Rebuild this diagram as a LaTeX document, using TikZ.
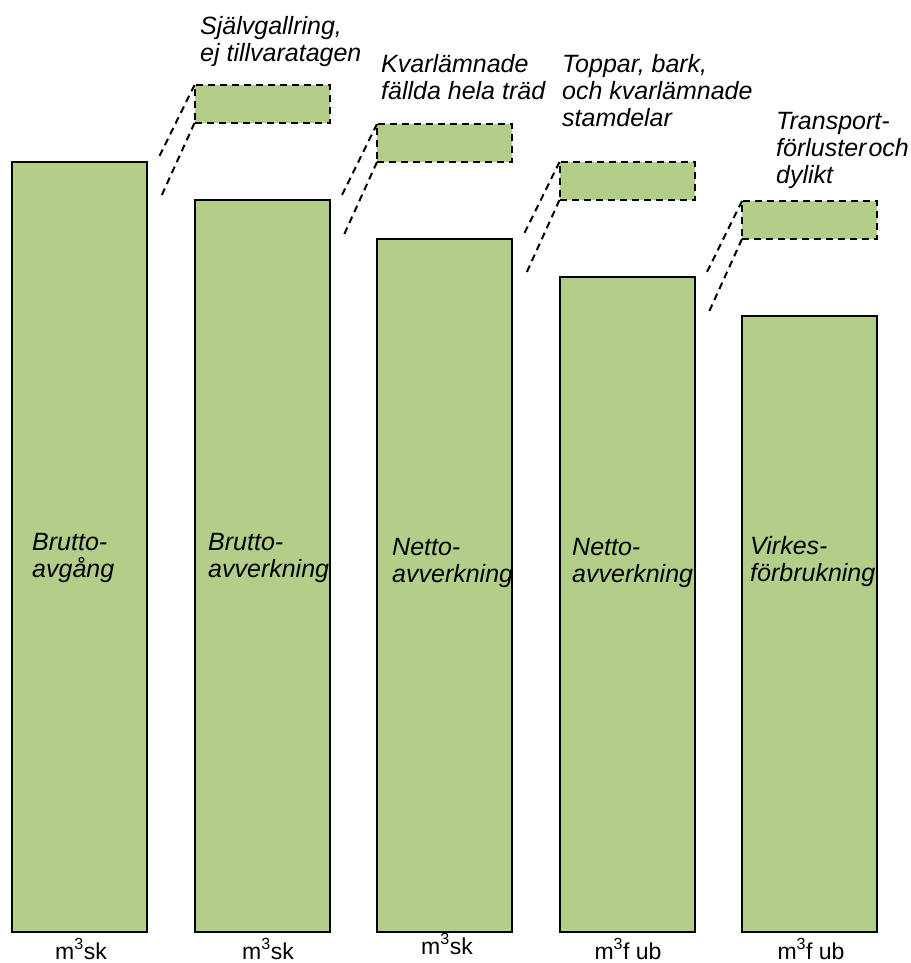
\documentclass[tikz,border=0pt]{standalone}
\usepackage{fontspec}
\setmainfont{Liberation Sans}
\usetikzlibrary{positioning,calc}
\definecolor{barfill}{RGB}{179,206,137}
\tikzset{
    barnode/.style={
        rectangle,draw,line width=2pt,fill=barfill,minimum width=135pt,inner sep=0pt,outer sep=0pt
    },
    lossnode/.style={
        rectangle,draw,dash pattern=on 7pt off 5pt,line width=2pt,fill=barfill,minimum width=135pt,minimum height=38pt,inner sep=0pt,outer sep=0pt
    },
    textlabel/.style={
        align=left,inner sep=0pt,anchor=base west,font=\fontsize{25}{27}\selectfont\itshape
    },
    unitlabel/.style={
        inner sep=0pt,anchor=base,font=\fontsize{23}{26}\selectfont
    },
    leader/.style={
        dash pattern=on 7pt off 5pt,line width=2pt
    }
}

\begin{document}
\begin{tikzpicture}[x=1pt,y=-1pt]
\useasboundingbox (0,0) rectangle (910,963);
\node[barnode,minimum height=770pt,anchor=south west] (b1) at (12,932) {};
\node[barnode,minimum height=732pt,right=47.5pt of b1.south east,anchor=south west] (b2) {};
\node[barnode,minimum height=693pt,right=47.5pt of b2.south east,anchor=south west] (b3) {};
\node[barnode,minimum height=655pt,right=47.5pt of b3.south east,anchor=south west] (b4) {};
\node[barnode,minimum height=616pt,right=47.5pt of b4.south east,anchor=south west] (b5) {};
\node[lossnode,above=77pt of b2.north west,anchor=south west] (s1) {};
\node[lossnode,above=77pt of b3.north west,anchor=south west] (s2) {};
\node[lossnode,above=77pt of b4.north west,anchor=south west] (s3) {};
\node[lossnode,above=77pt of b5.north west,anchor=south west] (s4) {};
% leader ends
\coordinate (s1a) at ($(s1.north west)+(-36,73)$);
\coordinate (s1b) at ($(s1.south west)+(-34,75)$);
\coordinate (s2a) at ($(s2.north west)+(-36,73)$);
\coordinate (s2b) at ($(s2.south west)+(-34,75)$);
\coordinate (s3a) at ($(s3.north west)+(-36,73)$);
\coordinate (s3b) at ($(s3.south west)+(-34,75)$);
\coordinate (s4a) at ($(s4.north west)+(-36,73)$);
\coordinate (s4b) at ($(s4.south west)+(-34,75)$);
\draw[leader] (s1.north west) -- (s1a) (s1.south west) -- (s1b);
\draw[leader] (s2.north west) -- (s2a) (s2.south west) -- (s2b);
\draw[leader] (s3.north west) -- (s3a) (s3.south west) -- (s3b);
\draw[leader] (s4.north west) -- (s4a) (s4.south west) -- (s4b);
% base = last line
\node[textlabel] (n1) at (32,577) {Brutto-\\avgång};
\node[textlabel] (n2) at (208,577) {Brutto-\\avverkning};
\node[textlabel] (n3) at (392,582) {Netto-\\avverkning};
\node[textlabel] (n4) at (572,582) {Netto-\\avverkning};
\node[textlabel] (n5) at (750,581) {Virkes-\\förbrukning};
\node[textlabel] (t1) at (200,62) {Självgallring,\\ej tillvaratagen};
\node[textlabel] (t2) at (381,100) {Kvarlämnade\\fällda hela träd};
\node[textlabel] (t3) at (562,127) {Toppar, bark,\\och kvarlämnade\\stamdelar};
\node[textlabel] (t4) at (776,183) {Transport-\\förluster\kern2pt och\\dylikt};
\node[unitlabel] (u1) at (81,959) {m\textsuperscript{3}sk};
\node[unitlabel] (u2) at (268,959) {m\textsuperscript{3}sk};
\node[unitlabel] (u3) at (447,954) {m\textsuperscript{3}sk};
\node[unitlabel] (u4) at (628,959) {m\textsuperscript{3}f ub};
\node[unitlabel] (u5) at (811,959) {m\textsuperscript{3}f ub};
\end{tikzpicture}
\end{document}
